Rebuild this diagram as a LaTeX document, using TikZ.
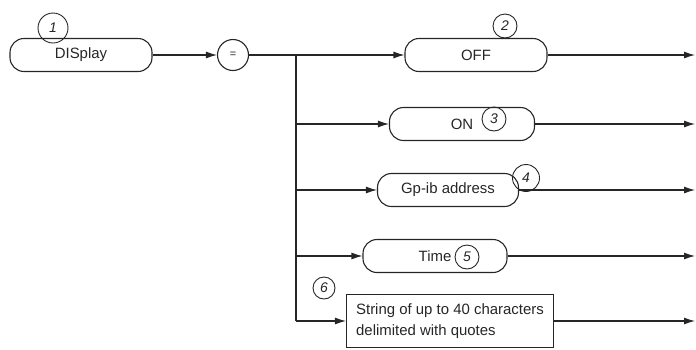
\documentclass[tikz,border=0pt]{standalone}
\usepackage{fontspec}
\setmainfont{Liberation Sans}
\usetikzlibrary{arrows.meta}
\definecolor{ink}{gray}{0.15}

\begin{document}
\begin{tikzpicture}[x=1bp,y=-1bp,>={Latex[length=11bp,width=7bp]},line width=1.1bp,ink,
    kw/.style={draw,rounded corners=14bp,minimum height=33bp,inner sep=0pt,font=\fontsize{15}{18}\selectfont},
    note/.style={draw,circle,line width=0.9bp,inner sep=0pt,font=\fontsize{14}{14}\selectfont\itshape}]
    \useasboundingbox (0,0) rectangle (696,349);
    % keywords
    \node[kw,minimum width=142bp] (disp) at (81,55) {DISplay};
    \node[draw,circle,minimum size=31bp,inner sep=0pt,font=\fontsize{11}{11}\selectfont] (eq) at (233,55) {=};
    \node[kw,minimum width=142bp] (off) at (476,55) {OFF};
    \node[kw,minimum width=145bp] (on) at (462,124) {ON\hspace{26bp}};
    \node[kw,minimum width=141bp] (gp) at (448,190) {Gp-ib address};
    \node[kw,minimum width=144bp] (time) at (435,256) {Time\hspace{26bp}};
    \node[draw,minimum width=207bp,minimum height=53bp,inner sep=8bp,align=left,
        font=\fontsize{15}{21}\selectfont] (str) at (450,321) {String of up to 40 characters\\delimited with quotes};
    % hand-written numbers
    \node[note,minimum size=30bp] (n1) at (53,28) {1};
    \node[note,minimum size=24bp] (n2) at (505,26) {2};
    \node[note,minimum size=24bp] (n3) at (494,119) {3};
    \node[note,minimum size=27bp] (n4) at (526,178) {4};
    \node[note,minimum size=24bp] (n5) at (467,257) {5};
    \node[note,minimum size=22bp] (n6) at (324,288) {6};
    \coordinate (j) at (296,55);
    \coordinate (endx) at (695,0);
    % connectors
    \draw[->] (disp.east) -- (eq.west);
    \draw (eq.east) -- (j);
    \draw[->] (j) -- (off.west);
    \draw (j) -- (j |- str.west);
    \foreach \b in {on,gp,time,str}{
        \draw[->] (j |- \b.west) -- (\b.west);
    }
    \foreach \b in {off,on,gp,time,str}{
        \draw[->] (\b.east) -- (\b.east -| endx);
    }
\end{tikzpicture}
\end{document}
